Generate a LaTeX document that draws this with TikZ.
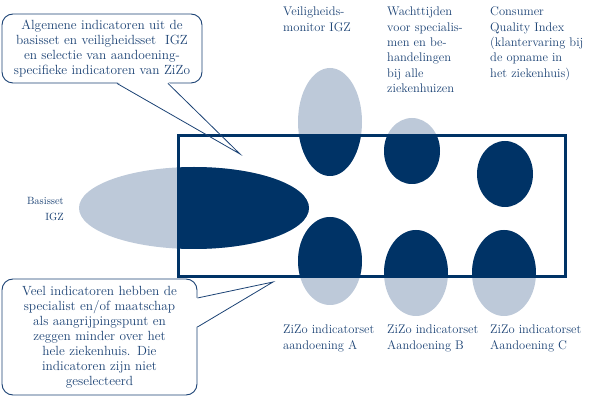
\documentclass[tikz,border=0pt]{standalone}
\usepackage{tikz}
\usetikzlibrary{positioning}
\definecolor{zizoblue}{HTML}{003366}
\definecolor{zizolight}{HTML}{BDC9D9}
\definecolor{zizotext}{HTML}{1B4274}

\begin{document}
\begin{tikzpicture} [x=1pt, y=-1pt, every node/.style={text=zizotext},
    settext/.style={align=left, inner sep=0pt, anchor=north west, font=\fontsize{12.5}{15.3}\selectfont},
    note/.style={draw=zizotext, line width=0.9pt, rounded corners=11pt, fill=white, align=center, inner sep=0pt, font=\fontsize{13.3}{15}\selectfont},
    pointer/.style={draw=zizotext, line width=0.8pt},
    lightpart/.style={fill=zizolight},
    darkpart/.style={fill=zizoblue},
    frame/.style={draw=zizoblue, line width=3pt},]
\useasboundingbox (0,0) rectangle (600,403);

% callouts
\node[note, minimum width=200pt, minimum height=69pt, text width=198pt] (algemeen) at (102,48.5)
    {Algemene indicatoren uit de\\basisset en veiligheidsset\ \ IGZ\\en selectie van aandoening-\\specifieke indicatoren van ZiZo};
\node[note, minimum width=195pt, minimum height=116pt, text width=193pt] (veel) at (99.5,337)
    {Veel indicatoren hebben de\\specialist en/of maatschap\\als aangrijpingspunt en\\zeggen minder over het\\hele ziekenhuis. Die\\indicatoren zijn niet\\geselecteerd};
\coordinate (tipA) at (240,154);
\coordinate (tipB) at (273,282);
\fill[white] ([xshift=15pt,yshift=1.5pt]algemeen.south) -- (tipA) -- ([xshift=66pt,yshift=1.5pt]algemeen.south) -- cycle;
\fill[white] ([yshift=39pt,xshift=-1.5pt]veel.east) -- (tipB) -- ([yshift=10pt,xshift=-1.5pt]veel.east) -- cycle;

% indicator sets
\fill[lightpart] (194,208) ellipse [x radius=115, y radius=41];
\fill[lightpart] (330,122) ellipse [x radius=32, y radius=54];
\fill[lightpart] (412,151) ellipse [x radius=28, y radius=33];
\fill[lightpart] (330,261) ellipse [x radius=32, y radius=44];
\fill[lightpart] (416,273) ellipse [x radius=32, y radius=43];
\fill[lightpart] (504,273) ellipse [x radius=32, y radius=43];
\begin{scope}
\clip (178,136) rectangle (565,277);
\fill[darkpart] (194,208) ellipse [x radius=115, y radius=41];
\fill[darkpart] (330,122) ellipse [x radius=32, y radius=54];
\fill[darkpart] (412,151) ellipse [x radius=28, y radius=33];
\fill[darkpart] (505,174) ellipse [x radius=28, y radius=33];
\fill[darkpart] (330,261) ellipse [x radius=32, y radius=44];
\fill[darkpart] (416,273) ellipse [x radius=32, y radius=43];
\fill[darkpart] (504,273) ellipse [x radius=32, y radius=43];
\end{scope}
\draw[frame] (178,136) rectangle (565,277);

\draw[pointer] ([xshift=15pt]algemeen.south) -- (tipA) -- ([xshift=66pt]algemeen.south);
\draw[pointer] ([yshift=39pt]veel.east) -- (tipB) -- ([yshift=10pt]veel.east);

% labels
\node[settext] (veiligheid) at (283,7) {Veiligheids-\\monitor IGZ};
\node[settext] (wachttijden) at (387,7) {Wachttijden\\voor specialis-\\men en be-\\handelingen\\bij alle\\ziekenhuizen};
\node[settext] (cqi) at (490,7) {Consumer\\Quality Index\\(klantervaring bij\\de opname in\\het ziekenhuis)};
\node[align=right, inner sep=0pt, anchor=east, font=\fontsize{10.5}{16}\selectfont] (basisset) at (64,209) {Basisset\\IGZ};
\node[settext] (zizoA) at (283,325) {ZiZo indicatorset\\aandoening A};
\node[settext] (zizoB) at (387,325) {ZiZo indicatorset\\Aandoening B};
\node[settext] (zizoC) at (490,325) {ZiZo indicatorset\\Aandoening C};

\end{tikzpicture}
\end{document}
